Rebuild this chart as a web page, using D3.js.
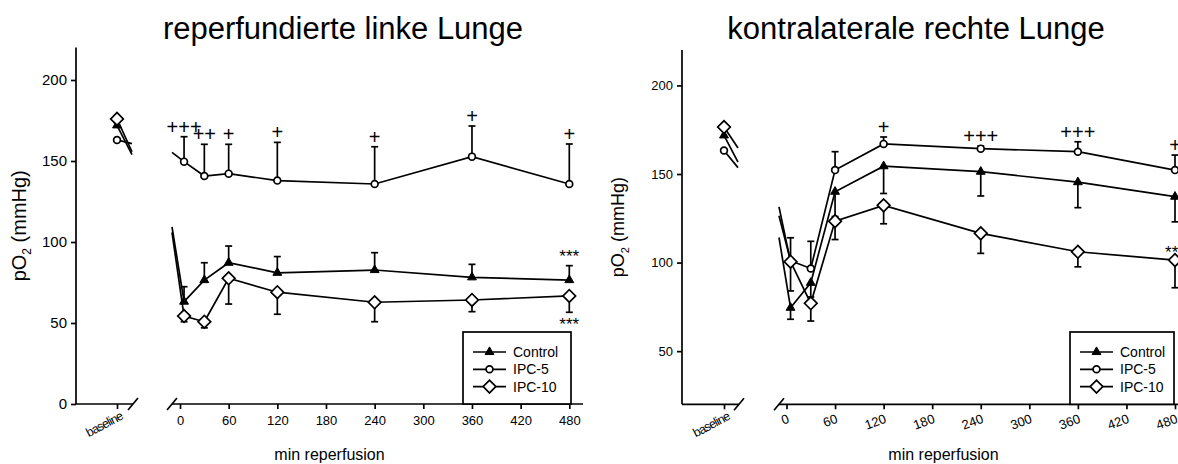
<!DOCTYPE html>
<html>
<head>
<meta charset="utf-8">
<script src="https://cdn.jsdelivr.net/npm/d3@7"></script>
<style>
  body { margin: 0; background: #fff; }
  svg { display: block; font-family: "Liberation Sans", Arial, sans-serif; }
</style>
</head>
<body>
<svg id="chart" width="1178" height="464"></svg>
<script>
// reperfusion times (min) and x tick labels
var times = [5, 30, 60, 120, 240, 360, 480];
var xTicks = [0, 60, 120, 180, 240, 300, 360, 420, 480];
var seriesNames = ["Control", "IPC-5", "IPC-10"];

// left lung (reperfused) - means, baseline and error bar length
var leftBase    = [172, 163, 176];
var leftControl = [63.2, 76.5, 87.2, 81.0, 82.7, 78.2, 76.5];
var leftIpc5    = [149.6, 140.7, 142.2, 137.9, 135.8, 152.7, 135.8];
var leftIpc10   = [54.3, 50.8, 77.6, 69.0, 62.8, 64.2, 66.7];
var leftControlErr = [9.2, 10.7, 10.3, 10.0, 10.7, 8.0, 8.9];
var leftIpc5Err    = [15.4, 19.6, 18.1, 23.6, 23.0, 18.9, 24.7];
var leftIpc10Err   = [3.5, 3.8, 15.9, 13.6, 12.0, 7.2, 10.1];
var leftPlus  = ["+++", "++", "+", "+", "+", "+", "+"];

// right lung (contralateral)
var rightBase    = [171.8, 163.3, 176.5];
var rightControl = [74.5, 88.6, 140.0, 154.4, 151.3, 145.4, 137.2];
var rightIpc5    = [101.0, 96.7, 152.2, 167.0, 164.3, 162.6, 152.2];
var rightIpc10   = [100.5, 77.0, 123.4, 132.3, 116.5, 106.1, 101.4];
var rightControlErr = [6.5, 8.0, 14.0, 15.4, 13.7, 14.4, 14.2];
var rightIpc5Err    = [13.0, 15.3, 10.4, 3.9, 1.5, 5.6, 8.5];
var rightIpc10Err   = [16.5, 10.0, 10.4, 10.4, 11.3, 8.5, 15.6];
var rightPlus = ["", "", "", "+", "+++", "+++", "+"];

var svg = d3.select("#chart");
var LW = 1.7;

function marker(g, name, x, y) {
    if (name == "Control") {
        g.append("path")
            .attr("d", d3.symbol().type(d3.symbolTriangle).size(34)())
            .attr("transform", "translate(" + x + "," + y + ")")
            .attr("fill", "#000").attr("stroke", "#000").attr("stroke-width", 1);
    } else if (name == "IPC-5") {
        g.append("circle").attr("cx", x).attr("cy", y).attr("r", 3.4)
            .attr("fill", "#fff").attr("stroke", "#000").attr("stroke-width", LW);
    } else {
        g.append("path")
            .attr("d", d3.symbol().type(d3.symbolSquare).size(80)())
            .attr("transform", "translate(" + x + "," + y + ") rotate(45)")
            .attr("fill", "#fff").attr("stroke", "#000").attr("stroke-width", LW);
    }
}

function drawPanel(p) {
    var g = svg.append("g");
    var y = d3.scaleLinear().domain(p.yDomain).range(p.yRange);
    var xb = d3.scalePoint().domain(["baseline"]).range(p.baseRange);
    var x = d3.scaleLinear().domain([0, 480]).range(p.xRange);
    var y0 = p.yRange[0];

    // title
    g.append("text").attr("x", p.titleX).attr("y", 39)
        .attr("text-anchor", "middle").style("font-size", "31px").text(p.title);

    // y axis
    var ya = g.append("g").attr("transform", "translate(" + p.baseRange[0] + ",0)")
        .call(d3.axisLeft(y).tickValues(p.yTicks).tickSize(5).tickSizeOuter(0).tickPadding(4));
    ya.select(".domain").remove();
    ya.append("line").attr("y1", y0).attr("y2", y(220)).attr("stroke", "#000").attr("stroke-width", LW);
    ya.selectAll(".tick line").attr("stroke-width", LW);
    ya.selectAll("text").style("font-size", p.yTickFont).attr("fill", "#000");

    g.append("text")
        .attr("transform", "translate(" + (p.baseRange[0] - p.yLabelOff) + "," + ((y0 + y(220)) / 2) + ") rotate(-90)")
        .attr("text-anchor", "middle").style("font-size", p.yLabelFont + "px")
        .html('pO<tspan dy="5" style="font-size:' + Math.round(p.yLabelFont * 0.62) + 'px">2</tspan><tspan dy="-5"> (mmHg)</tspan>');

    // x axis, baseline part
    var xba = g.append("g").attr("transform", "translate(0," + y0 + ")")
        .call(d3.axisBottom(xb).tickSize(5).tickSizeOuter(0));
    xba.select(".domain").remove();
    xba.selectAll(".tick line").attr("stroke-width", LW);
    xba.selectAll("text").attr("text-anchor", "end").style("font-size", "12.5px")
        .style("letter-spacing", "-0.9px").attr("fill", "#000")
        .attr("transform", "translate(2,7) rotate(-28)").attr("y", 0).attr("dy", "0.7em");
    g.append("line").attr("x1", p.baseRange[0]).attr("x2", p.break1)
        .attr("y1", y0).attr("y2", y0).attr("stroke", "#000").attr("stroke-width", LW);

    // x axis, reperfusion part
    var xa = g.append("g").attr("transform", "translate(0," + y0 + ")")
        .call(d3.axisBottom(x).tickValues(xTicks).tickSize(5).tickSizeOuter(0).tickPadding(7));
    xa.select(".domain").remove();
    xa.selectAll(".tick line").attr("stroke-width", LW);
    xa.selectAll("text").style("font-size", "13px").attr("fill", "#000");
    if (p.rotate) {
        xa.selectAll("text").attr("text-anchor", "end").attr("y", 0).attr("dy", 0)
            .attr("transform", "translate(3,18) rotate(-20)");
    }
    g.append("line").attr("x1", p.break2).attr("x2", p.axisEnd)
        .attr("y1", y0).attr("y2", y0).attr("stroke", "#000").attr("stroke-width", LW);
    [p.break1, p.break2].forEach(function(b) {
        g.append("line").attr("x1", b - 5).attr("x2", b + 5)
            .attr("y1", y0 + 6).attr("y2", y0 - 6).attr("stroke", "#000").attr("stroke-width", LW);
    });

    g.append("text").attr("x", (p.baseRange[0] + p.axisEnd) / 2 + p.labelShift).attr("y", 460)
        .attr("text-anchor", "middle").style("font-size", "16px").text("min reperfusion");

    var line = d3.line().x(function(d, i) { return x(times[i]); }).y(function(d) { return y(d); });

    p.series.forEach(function(s, k) {
        var bx = xb("baseline"), by = y(s.base);
        // stub leaving baseline, heading to first point
        var vx = bx + 90, vy = y(s.values[0]);
        var f = (p.break1 - 1 - bx) / (vx - bx);
        g.append("line").attr("x1", bx).attr("y1", by)
            .attr("x2", p.break1 - 1).attr("y2", by + (vy - by) * f)
            .attr("stroke", "#000").attr("stroke-width", LW);
        // stub arriving at first point from baseline (placed at -30 min)
        var ax = x(-30), fx = x(times[0]);
        var f2 = (p.break2 - ax) / (fx - ax);
        g.append("line").attr("x1", p.break2).attr("y1", by + (vy - by) * f2)
            .attr("x2", fx).attr("y2", vy)
            .attr("stroke", "#000").attr("stroke-width", LW);

        g.append("path").datum(s.values).attr("d", line)
            .attr("fill", "none").attr("stroke", "#000").attr("stroke-width", LW);

        // error bars (one-sided)
        s.values.forEach(function(v, i) {
            var end = v + s.dir * s.err[i];
            var xi = x(times[i]);
            g.append("line").attr("x1", xi).attr("x2", xi).attr("y1", y(v)).attr("y2", y(end))
                .attr("stroke", "#000").attr("stroke-width", LW);
            g.append("line").attr("x1", xi - 3.5).attr("x2", xi + 3.5).attr("y1", y(end)).attr("y2", y(end))
                .attr("stroke", "#000").attr("stroke-width", LW);
        });
    });

    // markers on top
    p.series.forEach(function(s) {
        marker(g, s.name, xb("baseline"), y(s.base));
        s.values.forEach(function(v, i) { marker(g, s.name, x(times[i]), y(v)); });
    });

    // significance marks
    var ipc5 = p.series[1];
    p.plus.forEach(function(t, i) {
        if (!t) return;
        g.append("text").attr("x", x(times[i])).attr("y", y(ipc5.values[i] + ipc5.err[i]) - 3)
            .attr("text-anchor", "middle").style("font-size", "20px").text(t);
    });
    p.stars.forEach(function(st) {
        g.append("text").attr("x", x(480)).attr("y", st.y(y))
            .attr("text-anchor", "middle").style("font-size", "17px").text("***");
    });

    // legend
    var lg = g.append("g");
    lg.append("rect").attr("x", p.legendX).attr("y", 332).attr("width", p.legendW).attr("height", y0 - 332)
        .attr("fill", "#fff").attr("stroke", "#000").attr("stroke-width", LW);
    seriesNames.forEach(function(n, i) {
        var ly = 352 + i * 17.3;
        lg.append("line").attr("x1", p.legendX + 10).attr("x2", p.legendX + 43)
            .attr("y1", ly).attr("y2", ly).attr("stroke", "#000").attr("stroke-width", LW);
        marker(lg, n, p.legendX + 26.5, ly);
        lg.append("text").attr("x", p.legendX + 50).attr("y", ly + 5)
            .style("font-size", "14px").text(n);
    });
}

drawPanel({
    title: "reperfundierte linke Lunge", titleX: 343,
    yDomain: [0, 220], yRange: [404, 47.6], yTicks: [0, 50, 100, 150, 200],
    yTickFont: "15px", yLabelFont: 20, yLabelOff: 50,
    baseRange: [76, 158], break1: 133, break2: 172, xRange: [180, 569.3], axisEnd: 583,
    rotate: false, labelShift: 0, legendX: 463, legendW: 108,
    series: [
        {name: "Control", base: leftBase[0], values: leftControl, err: leftControlErr, dir: 1},
        {name: "IPC-5", base: leftBase[1], values: leftIpc5, err: leftIpc5Err, dir: 1},
        {name: "IPC-10", base: leftBase[2], values: leftIpc10, err: leftIpc10Err, dir: -1}
    ],
    plus: leftPlus,
    stars: [
        {y: function(y) { return y(leftControl[6] + leftControlErr[6]) - 4; }},
        {y: function(y) { return y(leftIpc10[6] - leftIpc10Err[6]) + 18; }}
    ]
});

drawPanel({
    title: "kontralaterale rechte Lunge", titleX: 916,
    yDomain: [20, 220], yRange: [404.3, 50], yTicks: [50, 100, 150, 200],
    yTickFont: "13px", yLabelFont: 18, yLabelOff: 58,
    baseRange: [682, 766], break1: 739, break2: 779, xRange: [786.5, 1175], axisEnd: 1185,
    rotate: true, labelShift: 10, legendX: 1070, legendW: 104,
    series: [
        {name: "Control", base: rightBase[0], values: rightControl, err: rightControlErr, dir: -1},
        {name: "IPC-5", base: rightBase[1], values: rightIpc5, err: rightIpc5Err, dir: 1},
        {name: "IPC-10", base: rightBase[2], values: rightIpc10, err: rightIpc10Err, dir: -1}
    ],
    plus: rightPlus,
    stars: [
        {y: function(y) { return y(rightIpc10[6]) - 2; }}
    ]
});
</script>
</body>
</html>
